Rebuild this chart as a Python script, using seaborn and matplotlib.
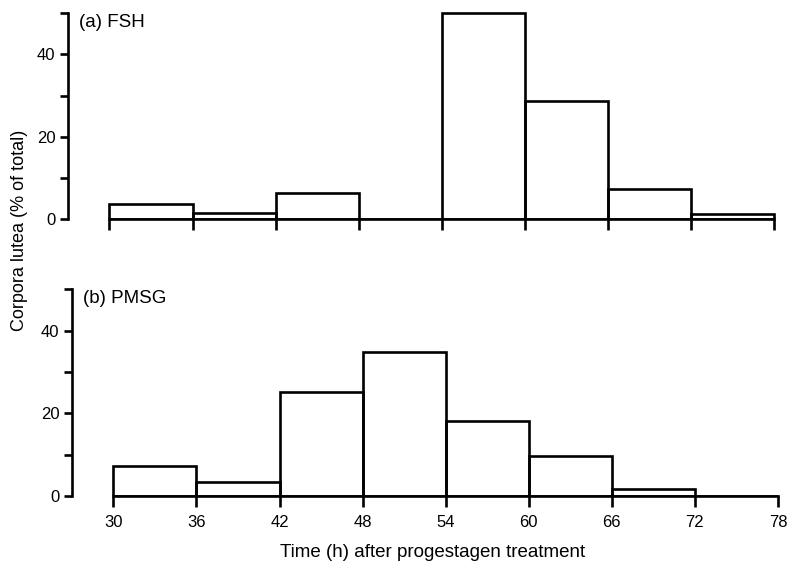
import numpy as np
import pandas as pd
import matplotlib
matplotlib.use("Agg")
import matplotlib.pyplot as plt
import seaborn as sns

# Data
bin_edges = [30, 36, 42, 48, 54, 60, 66, 72, 78]
fsh_pct = [3.6, 1.4, 6.3, 0.0, 50.0, 28.8, 7.3, 1.2]
pmsg_pct = [7.2, 3.4, 25.1, 34.7, 18.1, 9.6, 1.6, 0.0]
panel_labels = ["(a) FSH", "(b) PMSG"]
y_ticks = [0, 20, 40]
x_ticks = [30, 36, 42, 48, 54, 60, 66, 72, 78]
ylabel = "Corpora lutea (% of total)"
xlabel = "Time (h) after progestagen treatment"

sns.set_style("ticks")
plt.rcParams['font.family'] = ['Liberation Sans', 'DejaVu Sans']
plt.rcParams['font.size'] = 11
plt.rcParams['text.color'] = 'black'
plt.rcParams['axes.edgecolor'] = 'black'
plt.rcParams['xtick.color'] = 'black'
plt.rcParams['ytick.color'] = 'black'

LW = 1.9
fig = plt.figure(figsize=(7.9, 5.63), dpi=100)
ax1 = fig.add_axes([0.086, 0.611, 0.899, 0.369])
ax2 = fig.add_axes([0.091, 0.119, 0.899, 0.371])

mids = [(bin_edges[i] + bin_edges[i + 1]) / 2 for i in range(len(bin_edges) - 1)]
for ax, vals, lab in [(ax1, fsh_pct, panel_labels[0]), (ax2, pmsg_pct, panel_labels[1])]:
    df = pd.DataFrame({"time": mids, "pct": vals})
    sns.histplot(data=df, x="time", weights="pct", bins=bin_edges, fill=False,
                 color="black", linewidth=LW, ax=ax, element="bars")
    ax.set_xlim(27, 78.3)
    ax.set_ylim(0, 50.5)
    ax.spines['top'].set_visible(False)
    ax.spines['right'].set_visible(False)
    ax.spines['left'].set_linewidth(LW)
    ax.spines['bottom'].set_linewidth(LW)
    ax.spines['left'].set_bounds(0, 50)
    ax.spines['bottom'].set_bounds(30, 78)
    ax.set_yticks(y_ticks)
    ax.set_yticks([10, 30, 50], minor=True)
    ax.set_xticks(x_ticks)
    ax.tick_params(axis='y', which='both', length=6, width=LW, direction='out',
                   labelsize=12, pad=3, colors='black')
    ax.tick_params(axis='x', length=8, width=LW, direction='out', labelsize=12,
                   pad=6, colors='black')
    ax.set_ylabel("")
    ax.set_xlabel("")
    ax.text(27.8, 49.8, lab, fontsize=13.5, va='top', ha='left', color='black')

ax1.set_xticklabels([])
fig.text(0.025, 0.59, ylabel, rotation=90, va='center', ha='center', fontsize=13)
fig.text(0.548, 0.018, xlabel, va='center', ha='center', fontsize=13.5)

fig.savefig("out.png", dpi=100, facecolor="white")
